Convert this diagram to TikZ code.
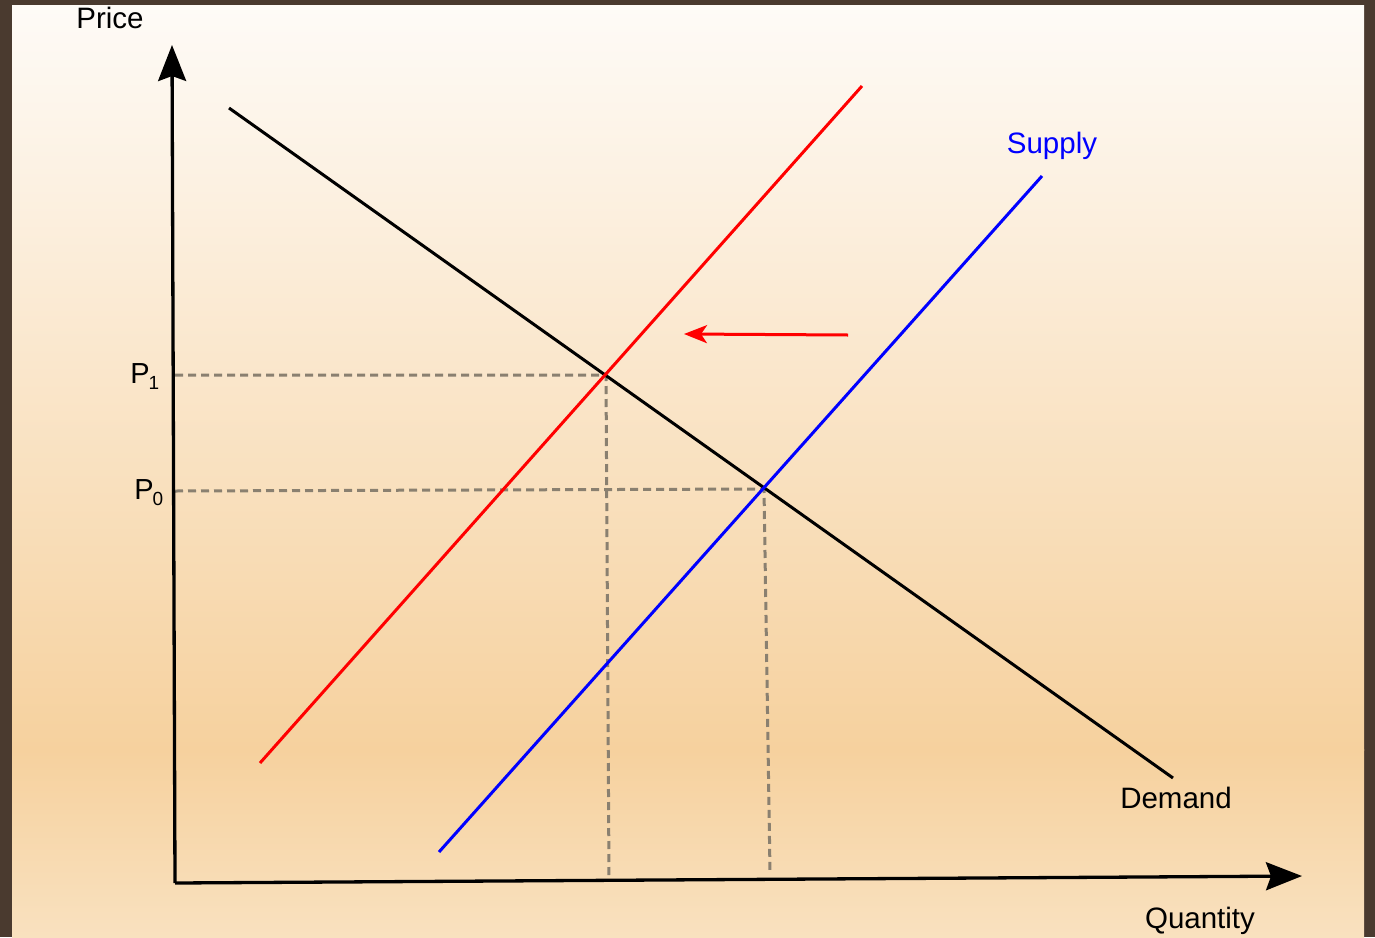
\documentclass[tikz,border=0pt]{standalone}
\usepackage{fontspec}
\setmainfont{Liberation Sans}
\usetikzlibrary{arrows.meta}
\definecolor{frame}{HTML}{4A3A2F}
\definecolor{bgtop}{HTML}{FEFBF7}
\definecolor{bgmid}{HTML}{F6D19E}
\definecolor{bgbot}{HTML}{F9E1BF}
\definecolor{dashgray}{HTML}{8A8070}
\definecolor{suppblue}{HTML}{0000FF}
\definecolor{suppred}{HTML}{FF0000}
\tikzset{
  axisline/.style={line width=3.3pt, black, -{Stealth[length=36pt,width=28pt,inset=5pt]}},
  curveline/.style={line width=3pt},
  guide/.style={line width=3pt, dashgray, dash pattern=on 8pt off 5pt},
  lbl/.style={font=\fontsize{29.5}{34}\selectfont, inner sep=0pt, anchor=center},
  plbl/.style={font=\fontsize{29}{34}\selectfont, inner sep=0pt, anchor=center},
  sublbl/.style={font=\fontsize{19}{22}\selectfont, inner sep=0pt, anchor=center}
}
\begin{document}
\begin{tikzpicture}[x=1pt,y=-1pt]
\useasboundingbox (0,0) rectangle (1375,937);
% frame and background
\fill[frame] (0,0) rectangle (1375,937);
\shade[top color=bgtop, bottom color=bgmid] (12,5) rectangle (1364,750);
\shade[top color=bgmid, bottom color=bgbot] (12,749.5) rectangle (1364,937);
% coordinates
\coordinate (O) at (175,883);
\coordinate (ytip) at (172,45);
\coordinate (xtip) at (1302,876);
\coordinate (d1) at (229,108);
\coordinate (d2) at (1173,778);
\coordinate (r1) at (260,763);
\coordinate (r2) at (862,86);
\coordinate (b1) at (439,852);
\coordinate (b2) at (1042,176);
\coordinate (E1) at (606,375);
\coordinate (E0) at (764,489);
\coordinate (p1a) at (175,375);
\coordinate (p0a) at (175,491);
\coordinate (q1) at (609,878);
\coordinate (q0) at (770,872);
\coordinate (ar1) at (848,335);
\coordinate (ar2) at (684,334);
% guides
\draw[guide] (p1a) -- (E1) -- (q1);
\draw[guide] (p0a) -- (E0) -- (q0);
% curves
\draw[curveline, black] (d1) -- (d2);
\draw[curveline, suppred] (r1) -- (r2);
\draw[curveline, suppblue] (b1) -- (b2);
\draw[line width=3pt, suppred, -{Stealth[length=23pt,width=18pt,inset=6pt]}] (ar1) -- (ar2);
% axes
\draw[axisline] (O) -- (ytip);
\draw[axisline] (O) -- (xtip);
% labels
\node[lbl] (price) at (110,18) {Price};
\node[lbl] (quantity) at (1200,921) {Quantity};
\node[lbl, text=suppblue] (supply) at (1052,146) {Supply};
\node[lbl] (demand) at (1176,798) {Demand};
\node[plbl] (P1) at (140,374) {P};
\node[sublbl] (P1s) at (154,383) {1};
\node[plbl] (P0) at (144,490) {P};
\node[sublbl] (P0s) at (158,499) {0};
\end{tikzpicture}
\end{document}
